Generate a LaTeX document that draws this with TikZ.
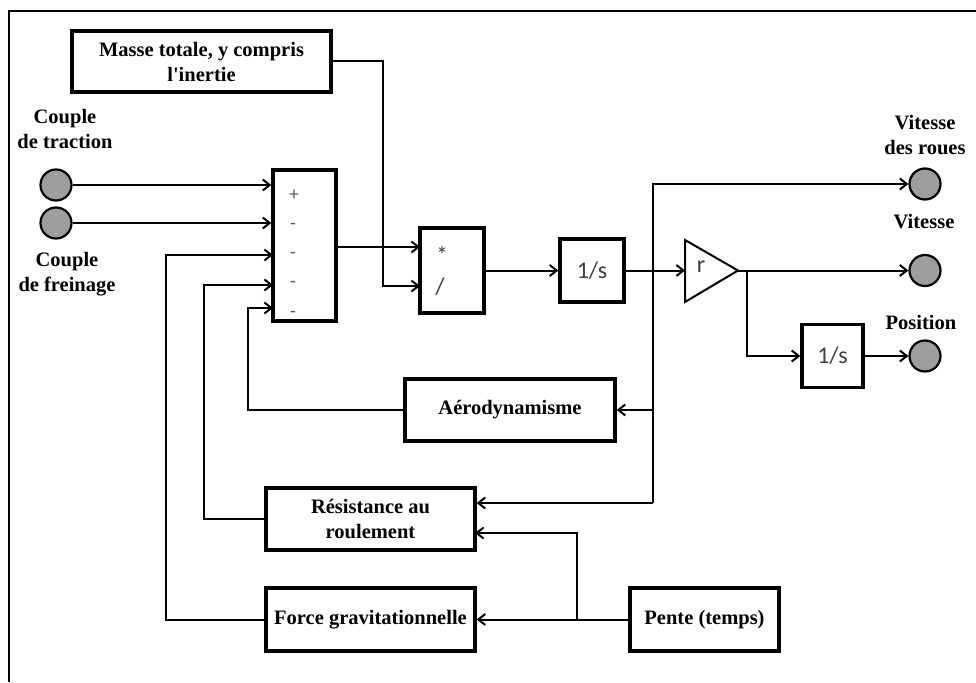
\documentclass[tikz,border=0pt]{standalone}
\usepackage{fontspec}
\setmainfont{Liberation Serif}
\newfontfamily\calib{Carlito}
\usetikzlibrary{arrows.meta}
\begin{document}
\begin{tikzpicture}[x=1pt,y=-1pt,
  lbl/.style={font=\bfseries\fontsize{20.5}{25}\selectfont, align=center, inner sep=0},
  blk/.style={draw, line width=3.3pt, inner sep=0, font=\bfseries\fontsize{20.5}{25}\selectfont, align=center},
  ops/.style={draw, line width=3.3pt, inner sep=0},
  sig/.style={font=\calib\fontsize{24}{24}\selectfont, text=black!75, inner sep=0},
  sgn/.style={font=\calib\fontsize{19}{19}\selectfont, text=black!65, inner sep=0},
  port/.style={circle, draw, line width=2.2pt, fill=black!38, minimum size=31pt, inner sep=0},
  wire/.style={line width=2pt},
  arr/.style={wire, -{Straight Barb[length=7pt,width=11pt,line width=2pt]}},
]
\useasboundingbox (0,0) rectangle (976,682);
\fill[white] (0,0) rectangle (976,682);
\draw[line width=2.4pt] (9,682) -- (9,11) -- (976,11);

% blocks
\node[blk, minimum width=259pt, minimum height=61pt] (masse) at (201.5,61.5) {Masse totale, y compris\\l\textquotesingle inertie};
\node[ops, minimum width=63pt, minimum height=151pt] (sum) at (304.5,245.5) {};
\node[ops, minimum width=64pt, minimum height=85pt] (div) at (452,270.5) {};
\node[ops, minimum width=64pt, minimum height=63pt, sig] (int1) at (592,270.5) {1/s};
\node[ops, minimum width=61pt, minimum height=63pt, sig] (int2) at (832.5,356) {1/s};
\node[blk, minimum width=210pt, minimum height=62pt] (aero) at (510,410) {Aérodynamisme};
\node[blk, minimum width=209pt, minimum height=62pt] (res) at (370.5,519) {Résistance au\\roulement};
\node[blk, minimum width=209pt, minimum height=63pt] (force) at (370.5,619.5) {Force gravitationnelle};
\node[blk, minimum width=149pt, minimum height=63pt] (pente) at (704.5,619.5) {Pente (temps)};

% gain triangle
\coordinate (gin) at (685,270.5);
\coordinate (gout) at (738,270.5);
\draw[line width=2pt, line join=miter] (685,240) -- (gout) -- (685,302) -- cycle;
\node[sig] (glab) at (701,267) {r};

% signs of the summing block and the product block
\node[sgn] (p1) at (294,195) {+};
\node[sgn] (m2) at (293,226) {-};
\node[sgn] (m3) at (293,255) {-};
\node[sgn] (m4) at (293,284) {-};
\node[sgn] (m5) at (293,314) {-};
\node[sig] (mul) at (442,255) {*};
\node[sig] (dvd) at (440,287) {/};

% ports
\node[port] (tr) at (56,185) {};
\node[port] (fr) at (56,223) {};
\node[port] (wr) at (925,184) {};
\node[port] (vt) at (925,270.5) {};
\node[port] (ps) at (925,356) {};
\node[lbl] (ltr) at (65,129) {Couple\\de traction};
\node[lbl] (lfr) at (67,274) {Couple\\de freinage};
\node[lbl] (lwr) at (925,135) {Vitesse\\des roues};
\node[lbl] (lvt) at (924,222) {Vitesse};
\node[lbl] (lps) at (921,322) {Position};

% wiring points
\coordinate (s3) at (273,255);
\coordinate (s4) at (273,285);
\coordinate (s5) at (273,308);
\coordinate (k3) at (166,255);
\coordinate (k4) at (204,285);
\coordinate (k5) at (248,308);
\coordinate (d1) at (420,247);
\coordinate (d2) at (420,286);
\coordinate (mc) at (383,286);
\coordinate (v0) at (653,270.5);
\coordinate (v1) at (653,410);
\coordinate (v2) at (653,503);
\coordinate (g0) at (747,270.5);
\coordinate (p0) at (577,619.5);
\coordinate (r2) at (475,533);

% connectors
\draw[arr] (tr.east) -- (tr.east -| sum.west);
\draw[arr] (fr.east) -- (fr.east -| sum.west);
\draw[arr] (force.west) -| (k3) -- (s3);
\draw[arr] (res.west) -| (k4) -- (s4);
\draw[arr] (aero.west) -| (k5) -- (s5);
\draw[arr] (d1 -| sum.east) -- (d1);
\draw[arr] (masse.east) -| (mc) -- (d2);
\draw[arr] (div.east) -- (int1.west);
\draw[arr] (int1.east) -- (gin);
\draw[arr] (v0) |- (wr.west);
\draw[wire] (v0) -- (v2);
\draw[arr] (v1) -- (aero.east);
\draw[arr] (v2) -- (v2 -| res.east);
\draw[arr] (gout) -- (vt.west);
\draw[arr] (g0) |- (int2.west);
\draw[arr] (int2.east) -- (ps.west);
\draw[arr] (pente.west) -- (force.east);
\draw[arr] (p0) |- (r2);
\end{tikzpicture}
\end{document}
